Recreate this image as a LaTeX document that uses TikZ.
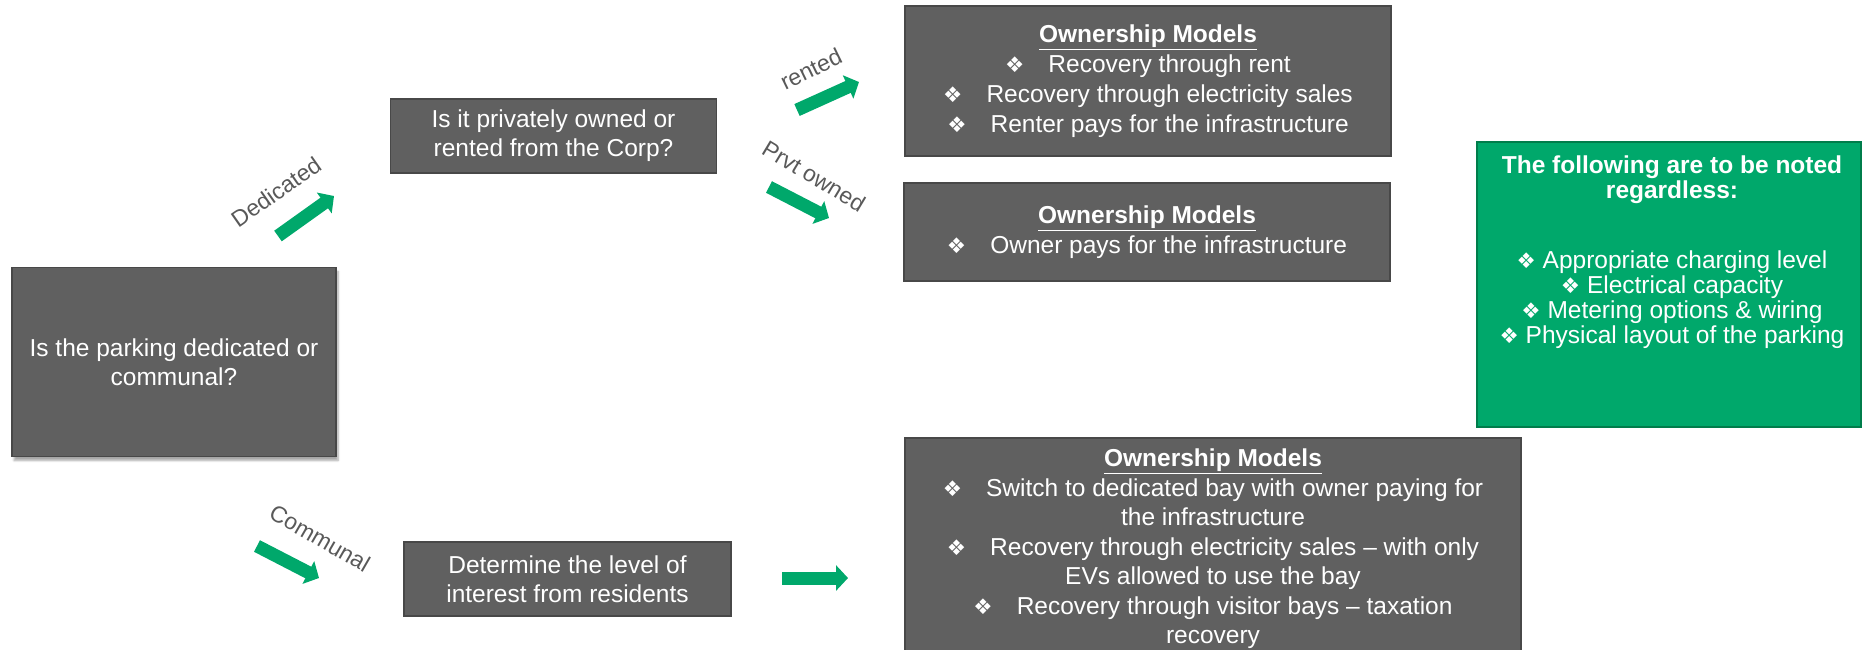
\documentclass[tikz,border=0pt]{standalone}
\usepackage{fontspec}
\setmainfont{Liberation Sans}
\newfontfamily\symfont{DejaVu Sans}
\usetikzlibrary{arrows.meta,shadows.blur}
\definecolor{boxgray}{RGB}{96,96,96}
\definecolor{boxedge}{RGB}{72,72,72}
\definecolor{flowgreen}{RGB}{0,168,107}
\definecolor{greenedge}{RGB}{0,125,75}
\definecolor{labelgray}{RGB}{89,89,89}
\newcommand{\bul}{{\symfont\fontsize{21.5}{21.5}\selectfont ❖}}
\newcommand{\bitem}[1]{\bul\hspace{24pt}#1}
\newcommand{\omtitle}{\textbf{\underline{Ownership Models}}}
\begin{document}
\begin{tikzpicture}[x=1pt,y=-1pt,
  graybox/.style={draw=boxedge, line width=1.2pt, fill=boxgray, text=white,
    align=center, inner sep=0pt, font=\fontsize{24.5}{29}\selectfont},
  greenbox/.style={draw=greenedge, line width=1.2pt, fill=flowgreen, inner sep=0pt},
  notetext/.style={text=white, align=center, inner sep=0pt, font=\fontsize{24.5}{25}\selectfont},
  flowarrow/.style={draw=flowgreen, line width=13pt, -{Triangle[length=12pt,width=25pt]}},
  lbl/.style={text=labelgray, inner sep=0pt, font=\fontsize{23}{23}\selectfont}]
\useasboundingbox (0,0) rectangle (1862,649);

% boxes
\node[graybox, minimum width=324pt, minimum height=189pt,
  blur shadow={shadow xshift=2pt, shadow yshift=-4pt, shadow blur steps=6, shadow opacity=35}]
  (q1) at (174,362) {Is the parking dedicated or\\communal?};
\node[graybox, minimum width=326pt, minimum height=74pt] (q2) at (553.5,136)
  {Is it privately owned or\\rented from the Corp?};
\node[graybox, minimum width=486pt, minimum height=150pt, font=\fontsize{24.5}{30}\selectfont] (m1) at (1148,81)
  {\omtitle\\\bitem{Recovery through rent}\\\bitem{Recovery through electricity sales}\\\bitem{Renter pays for the infrastructure}};
\node[graybox, minimum width=486pt, minimum height=98pt, font=\fontsize{24.5}{30}\selectfont] (m2) at (1147,232)
  {\omtitle\\\bitem{Owner pays for the infrastructure}};
\node[greenbox, minimum width=384pt, minimum height=285pt] (note) at (1669,284.5) {};
\node[notetext] (notetxt) at (1672,252)
  {\textbf{The following are to be noted}\\\textbf{regardless:}\\[45pt]
   \bul{} Appropriate charging level\\\bul{} Electrical capacity\\
   \bul{} Metering options \& wiring\\\bul{} Physical layout of the parking};
\node[graybox, minimum width=327pt, minimum height=74pt] (q3) at (567.5,579)
  {Determine the level of\\interest from residents};
\node[graybox, minimum width=616pt, minimum height=222pt, font=\fontsize{24.5}{29.5}\selectfont] (m3) at (1213,549)
  {\omtitle\\\bitem{Switch to dedicated bay with owner paying for}\\the infrastructure\\
   \bitem{Recovery through electricity sales -- with only}\\EVs allowed to use the bay\\
   \bitem{Recovery through visitor bays -- taxation}\\recovery};

% arrows
\coordinate (ded0) at (278,236); \coordinate (ded1) at (334,196);
\coordinate (ren0) at (797,110); \coordinate (ren1) at (859,82);
\coordinate (prv0) at (769,187); \coordinate (prv1) at (829,218);
\coordinate (com0) at (257,546); \coordinate (com1) at (319,578);
\coordinate (int0) at (782,578); \coordinate (int1) at (848,578);
\draw[flowarrow] (ded0) -- (ded1);
\draw[flowarrow] (ren0) -- (ren1);
\draw[flowarrow] (prv0) -- (prv1);
\draw[flowarrow] (com0) -- (com1);
\draw[flowarrow] (int0) -- (int1);

% labels
\node[lbl, rotate=35] (lded) at (276,192) {Dedicated};
\node[lbl, rotate=26] (lren) at (811,69) {rented};
\node[lbl, rotate=-31] (lprv) at (814,176) {Prvt owned};
\node[lbl, rotate=-30] (lcom) at (320,538) {Communal};
\end{tikzpicture}
\end{document}
